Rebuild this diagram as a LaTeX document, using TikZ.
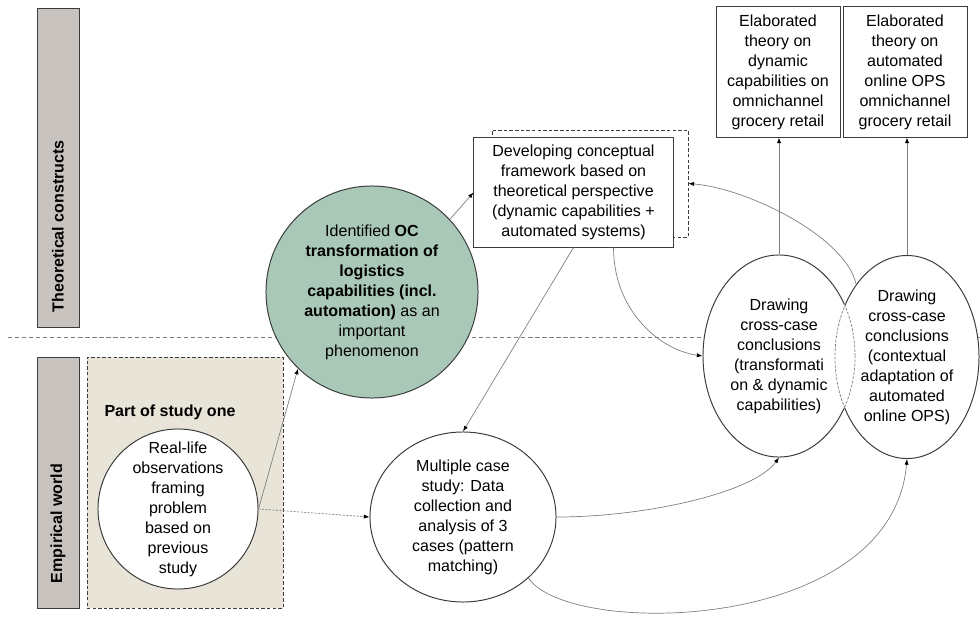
\documentclass[tikz,border=0pt]{standalone}
\usepackage{fontspec}
\setmainfont{Liberation Sans}
\usetikzlibrary{shapes.geometric,arrows.meta}
\definecolor{bargray}{RGB}{200,195,190}
\definecolor{studybeige}{RGB}{232,228,216}
\definecolor{phengreen}{RGB}{170,200,183}
\definecolor{linegray}{RGB}{128,128,128}
\definecolor{edgegray}{RGB}{60,60,60}
\newcommand{\diagfont}{\fontsize{11.4}{14.2}\selectfont}
\begin{document}
\begin{tikzpicture}[x=0.025cm, y=-0.025cm,
	every node/.style={font=\diagfont, align=center, inner sep=0pt},
	sidebar/.style={rectangle, draw=edgegray, fill=bargray, line width=0.6pt},
	sidelabel/.style={rotate=90, anchor=west, font=\diagfont\bfseries},
	bubble/.style={circle, draw=edgegray, fill=white, line width=0.7pt, inner sep=-0.25cm},
	oval/.style={ellipse, draw=edgegray, fill=white, line width=0.7pt},
	textbox/.style={rectangle, draw=edgegray, fill=white, line width=0.7pt},
	dashframe/.style={rectangle, draw=edgegray, line width=0.6pt, dash pattern=on 2.5pt off 1.5pt},
	conn/.style={draw=linegray, line width=0.5pt, -{Latex[length=4pt,width=3pt,color=black]}},
	lens/.style={draw=linegray, line width=0.5pt, dash pattern=on 2pt off 1pt}]
	\useasboundingbox (0,0) rectangle (980,618);

	% world divider
	\draw[linegray, line width=0.5pt, dash pattern=on 3pt off 2pt] (8,337) -- (980,337);

	\node (theorybar) [sidebar, minimum width=1.05cm, minimum height=7.975cm] at (58,167.5) {};
	\node (theorylabel) [sidelabel] at ([yshift=0.375cm]theorybar.south) {Theoretical constructs};
	\node (empbar) [sidebar, minimum width=1.05cm, minimum height=6.275cm] at (58,482.5) {};
	\node (emplabel) [sidelabel] at ([yshift=0.625cm]empbar.south) {Empirical world};

	\node (studyone) [dashframe, fill=studybeige, minimum width=4.9cm, minimum height=6.275cm] at (185,482.5) {};
	\node (studylabel) [font=\diagfont\bfseries] at (170,412) {Part of study one};
	\node (reallife) [bubble, minimum size=4cm] at (178,509) {Real-life\\observations\\framing\\problem\\based on\\previous\\study};

	\node (phenom) [bubble, fill=phengreen, minimum size=5.3cm] at (372,292) {Identified \textbf{OC}\\\textbf{transformation of}\\\textbf{logistics}\\\textbf{capabilities (incl.}\\\textbf{automation)} as an\\important\\phenomenon};

	\node (frameshadow) [dashframe, minimum width=4.9cm, minimum height=2.675cm] at (590,183.5) {};
	\node (framework) [textbox, minimum width=4.975cm, minimum height=2.725cm] at (573.5,192.5) {Developing conceptual\\framework based on\\theoretical perspective\\(dynamic capabilities +\\automated systems)};

	\node (multicase) [oval, minimum width=4.65cm, minimum height=4.25cm] at (463,517) {Multiple case\\study: Data\\collection and\\analysis of 3\\cases (pattern\\matching)};

	\node (crossA) [oval, minimum width=3.8cm, minimum height=5.05cm] at (779,356) {Drawing\\cross-case\\conclusions\\(transformati\\on \& dynamic\\capabilities)};
	\node (crossB) [oval, minimum width=3.6cm, minimum height=5.075cm] at (907,357) {Drawing\\cross-case\\conclusions\\(contextual\\adaptation of\\automated\\online OPS)};

	% overlap of the two conclusion ovals
	\begin{scope}
		\clip (crossA.center) ellipse [x radius=1.9cm, y radius=2.525cm];
		\draw[white, line width=1.6pt] (crossB.center) ellipse [x radius=1.8cm, y radius=2.5375cm];
		\draw[lens] (crossB.center) ellipse [x radius=1.8cm, y radius=2.5375cm];
	\end{scope}
	\begin{scope}
		\clip (crossB.center) ellipse [x radius=1.8cm, y radius=2.5375cm];
		\draw[lens] (crossA.center) ellipse [x radius=1.9cm, y radius=2.525cm];
	\end{scope}

	\node (theoryA) [textbox, minimum width=3.1cm, minimum height=3.25cm] at (778,72) {Elaborated\\theory on\\dynamic\\capabilities on\\omnichannel\\grocery retail};
	\node (theoryB) [textbox, minimum width=3.1cm, minimum height=3.25cm] at (905,72) {Elaborated\\theory on\\automated\\online OPS\\omnichannel\\grocery retail};

	\draw[conn] (reallife.east) -- (phenom.226);
	\draw[conn, dash pattern=on 1.5pt off 1pt] (reallife.east) -- (multicase.west);
	\draw[conn] (phenom.43) -- (framework.west);
	\draw[conn] (framework.south) -- (multicase.north);
	\draw[conn] ([xshift=1cm]framework.south) .. controls +(0,63) and +(-43,-6) .. (crossA.west);
	\draw[conn] (multicase.east) .. controls +(90,0) and +(-25,35) .. (crossA.south);
	\draw[conn] (multicase.-43) .. controls +(40,60) and +(-15,175) .. (crossB.south);
	\draw[conn] (crossB.125) .. controls +(-10,-47) and +(60,5) .. (frameshadow.east);
	\draw[conn] (crossA.north) -- (crossA.north |- theoryA.south);
	\draw[conn] (crossB.north) -- (crossB.north |- theoryB.south);
\end{tikzpicture}
\end{document}
